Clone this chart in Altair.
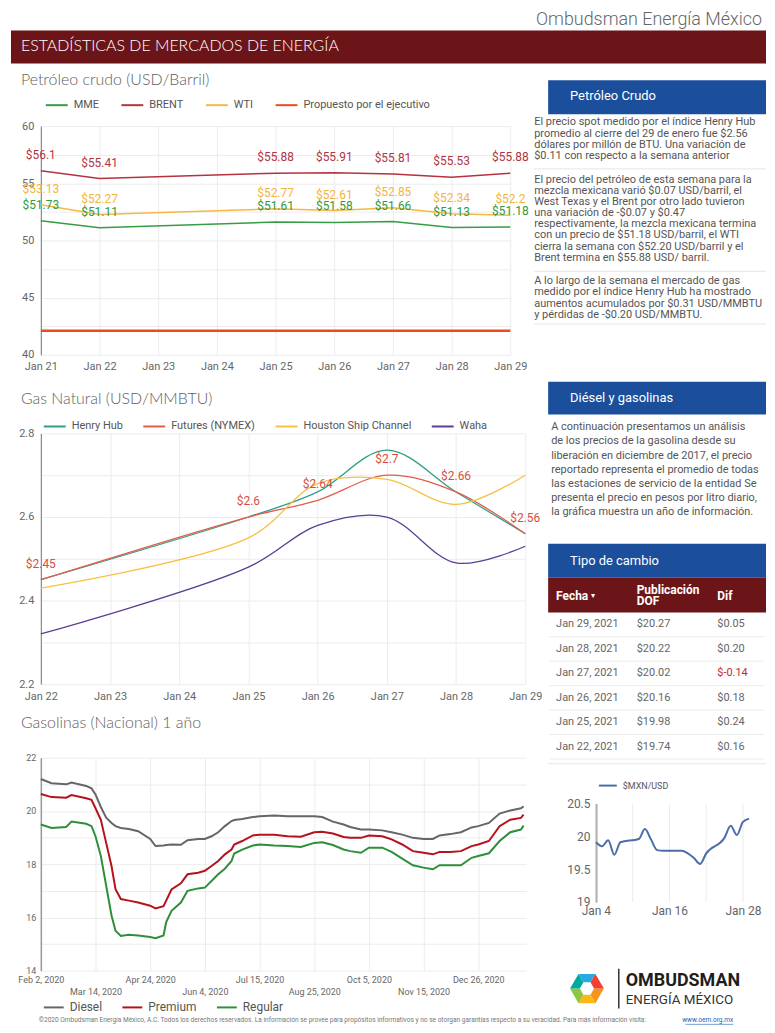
import math
import altair as alt
import pandas as pd

OFF_X, OFF_Y = 10, 11  # page margin (plus small correction)

# ---------------- Petróleo crudo (USD/Barril) ----------------
pet_fechas = ["2021-01-21", "2021-01-22", "2021-01-25", "2021-01-26", "2021-01-27", "2021-01-28", "2021-01-29"]
pet_mme = [51.73, 51.11, 51.61, 51.58, 51.66, 51.13, 51.18]
pet_brent = [56.10, 55.41, 55.88, 55.91, 55.81, 55.53, 55.88]
pet_wti = [53.13, 52.27, 52.77, 52.61, 52.85, 52.34, 52.20]
pet_propuesto = [42.1, 42.1, 42.1, 42.1, 42.1, 42.1, 42.1]
pet_series = ["MME", "BRENT", "WTI", "Propuesto por el ejecutivo"]
pet_colores = ["#369c45", "#b5323f", "#f5b942", "#ee4a1b"]
pet_colores_etiqueta = ["#2f9a3c", "#b23544", "#f1b53e"]
pet_x_ticks = ["2021-01-21", "2021-01-22", "2021-01-23", "2021-01-24", "2021-01-25",
               "2021-01-26", "2021-01-27", "2021-01-28", "2021-01-29"]
pet_y_ticks = [40, 42.5, 45, 47.5, 50, 52.5, 55, 57.5, 60]

# ---------------- Gas Natural (USD/MMBTU) ----------------
gas_fechas = ["2021-01-22", "2021-01-25", "2021-01-26", "2021-01-27", "2021-01-28", "2021-01-29"]
gas_henry = [2.45, 2.60, 2.66, 2.76, 2.66, 2.56]
gas_futures = [2.45, 2.60, 2.64, 2.70, 2.66, 2.56]
gas_houston = [2.43, 2.55, 2.68, 2.69, 2.63, 2.70]
gas_waha = [2.32, 2.48, 2.58, 2.60, 2.49, 2.53]
gas_series = ["Henry Hub", "Futures (NYMEX)", "Houston Ship Channel", "Waha"]
gas_colores = ["#2fa085", "#e25c4c", "#f6c143", "#5b3d94"]
gas_x_ticks = ["2021-01-22", "2021-01-23", "2021-01-24", "2021-01-25",
               "2021-01-26", "2021-01-27", "2021-01-28", "2021-01-29"]
gas_y_ticks = [2.2, 2.3, 2.4, 2.5, 2.6, 2.7, 2.8]

# ---------------- Gasolinas (Nacional) 1 año ----------------
gaso_fechas = ["2020-02-02", "2020-02-10", "2020-02-21", "2020-02-25", "2020-03-07", "2020-03-11",
               "2020-03-14", "2020-03-18", "2020-03-22", "2020-03-26", "2020-03-29", "2020-04-02",
               "2020-04-08", "2020-04-15", "2020-04-24", "2020-04-28", "2020-05-04", "2020-05-06",
               "2020-05-10", "2020-05-17", "2020-05-22", "2020-05-30", "2020-06-04", "2020-06-09",
               "2020-06-14", "2020-06-19", "2020-06-24", "2020-06-26", "2020-07-02", "2020-07-10",
               "2020-07-15", "2020-07-26", "2020-08-05", "2020-08-15", "2020-08-25", "2020-08-31",
               "2020-09-08", "2020-09-16", "2020-09-21", "2020-09-29", "2020-10-05", "2020-10-15",
               "2020-10-22", "2020-10-30", "2020-11-07", "2020-11-15", "2020-11-22", "2020-11-27",
               "2020-12-05", "2020-12-13", "2020-12-21", "2020-12-26", "2021-01-03", "2021-01-11",
               "2021-01-19", "2021-01-27", "2021-01-29"]
gaso_diesel = [21.20, 21.04, 21.00, 21.07, 20.94, 20.85, 20.62, 20.15, 19.75, 19.55, 19.43, 19.36,
               19.32, 19.24, 18.95, 18.68, 18.70, 18.72, 18.74, 18.73, 18.90, 18.95, 18.95, 19.05,
               19.20, 19.43, 19.62, 19.66, 19.70, 19.77, 19.80, 19.83, 19.80, 19.80, 19.80, 19.77,
               19.60, 19.49, 19.40, 19.30, 19.30, 19.27, 19.20, 19.11, 18.99, 18.95, 18.95, 19.08,
               19.13, 19.20, 19.38, 19.43, 19.55, 19.90, 20.02, 20.10, 20.17]
gaso_premium = [20.64, 20.52, 20.50, 20.60, 20.48, 20.42, 20.10, 19.67, 18.80, 17.93, 17.06, 16.69,
                16.63, 16.56, 16.44, 16.34, 16.42, 16.63, 17.05, 17.28, 17.62, 17.68, 17.75, 17.93,
                18.12, 18.37, 18.55, 18.74, 18.87, 19.08, 19.11, 19.11, 19.05, 19.03, 19.20, 19.22,
                19.15, 19.02, 18.99, 18.99, 19.08, 19.05, 18.93, 18.74, 18.49, 18.43, 18.37, 18.46,
                18.46, 18.49, 18.68, 18.74, 18.87, 19.43, 19.67, 19.74, 19.86]
gaso_regular = [19.49, 19.36, 19.40, 19.60, 19.52, 19.43, 19.05, 18.31, 17.19, 16.07, 15.50, 15.30,
                15.35, 15.32, 15.26, 15.22, 15.32, 15.82, 16.25, 16.56, 17.00, 17.09, 17.12, 17.37,
                17.62, 17.83, 18.12, 18.40, 18.55, 18.70, 18.74, 18.70, 18.68, 18.65, 18.80, 18.82,
                18.72, 18.55, 18.49, 18.43, 18.62, 18.62, 18.46, 18.21, 17.96, 17.87, 17.81, 17.96,
                17.96, 17.96, 18.24, 18.31, 18.41, 18.87, 19.20, 19.30, 19.45]
gaso_series = ["Diesel", "Premium", "Regular"]
gaso_colores = ["#666666", "#b5121b", "#2e8f3a"]
gaso_x_ticks = ["2020-02-02", "2020-03-14", "2020-04-24", "2020-06-04", "2020-07-15",
                "2020-08-25", "2020-10-05", "2020-11-15", "2020-12-26"]
gaso_x_dominio = ["2020-02-02", "2021-01-31"]
gaso_y_ticks = [14, 15, 16, 17, 18, 19, 20, 21, 22]

# ---------------- Tipo de cambio ----------------
tabla_fecha = ["Jan 29, 2021", "Jan 28, 2021", "Jan 27, 2021", "Jan 26, 2021", "Jan 25, 2021", "Jan 22, 2021"]
tabla_dof = [20.27, 20.22, 20.02, 20.16, 19.98, 19.74]
tabla_dif = [0.05, 0.20, -0.14, 0.18, 0.24, 0.16]

fx_fechas = ["2021-01-04", "2021-01-05", "2021-01-06", "2021-01-07", "2021-01-08", "2021-01-11",
             "2021-01-12", "2021-01-13", "2021-01-14", "2021-01-15", "2021-01-18", "2021-01-19",
             "2021-01-20", "2021-01-21", "2021-01-22", "2021-01-25", "2021-01-26", "2021-01-27",
             "2021-01-28", "2021-01-29"]
fx_valores = [19.91, 19.85, 19.94, 19.72, 19.91, 19.96, 20.11, 19.95, 19.79, 19.78, 19.78, 19.74,
              19.67, 19.58, 19.74, 19.98, 20.16, 20.02, 20.22, 20.27]
fx_serie = "$MXN/USD"
fx_x_ticks = ["2021-01-04", "2021-01-10", "2021-01-16", "2021-01-22", "2021-01-28"]
fx_x_dominio = ["2021-01-04", "2021-01-29"]
fx_y_ticks = [19, 19.25, 19.5, 19.75, 20, 20.25, 20.5]

# ---------------- textos ----------------
p_henry = ["El precio spot medido por el índice Henry Hub",
           "promedio al cierre del 29 de enero fue $2.56",
           "dólares por millón de BTU. Una variación de",
           "$0.11 con respecto a la semana anterior"]
p_petroleo = ["El precio del petróleo de esta semana para la",
              "mezcla mexicana varió $0.07 USD/barril, el",
              "West Texas y el Brent por otro lado tuvieron",
              "una variación de -$0.07 y $0.47",
              "respectivamente, la mezcla mexicana termina",
              "con un precio de $51.18 USD/barril, el WTI",
              "cierra la semana con $52.20 USD/barril y el",
              "Brent termina en $55.88 USD/ barril."]
p_gas = ["A lo largo de la semana el mercado de gas",
         "medido por el índice Henry Hub ha mostrado",
         "aumentos acumulados por $0.31 USD/MMBTU",
         "y pérdidas de -$0.20 USD/MMBTU."]
p_diesel = ["A continuación presentamos un análisis",
            "de los precios de la gasolina desde su",
            "liberación en diciembre de 2017, el precio",
            "reportado representa el promedio de todas",
            "las estaciones de servicio de la entidad Se",
            "presenta el precio en pesos por litro diario,",
            "la gráfica muestra un año de información."]
footer = ("©2020 Ombudsman Energía México, A.C. Todos los derechos reservados. La información se provee "
          "para propósitos informativos y no se otorgan garantías respecto a su veracidad. Para más información visita:")


# ---------------- helpers ----------------
def D(s):
    y, m, d = (int(p) for p in s.split("-"))
    return alt.DateTime(year=y, month=m, date=d)


def local(dates):
    return [d + "T00:00:00" for d in dates]


one = pd.DataFrame({"k": [0]})


def txt(x, y, text, size=11, color="#555555", font="Roboto", weight="normal",
        align="left", baseline="middle", lh=None):
    props = dict(fontSize=size, color=color, font=font, fontWeight=weight, align=align, baseline=baseline)
    if lh is not None:
        props["lineHeight"] = lh
    return alt.Chart(one).mark_text(**props).encode(
        x=alt.value(x - OFF_X), y=alt.value(y - OFF_Y), text=alt.value(text))


def rect(x, y, x2, y2, color):
    return alt.Chart(one).mark_rect(color=color).encode(
        x=alt.value(x - OFF_X), x2=alt.value(x2 - OFF_X), y=alt.value(y - OFF_Y), y2=alt.value(y2 - OFF_Y))


def hrule(x, x2, y, color="#e6e6e6", w=1.0):
    return alt.Chart(one).mark_rule(color=color, strokeWidth=w).encode(
        x=alt.value(x - OFF_X), x2=alt.value(x2 - OFF_X), y=alt.value(y - OFF_Y))


def vrule(x, y, y2, color="#333333", w=1.0):
    return alt.Chart(one).mark_rule(color=color, strokeWidth=w).encode(
        x=alt.value(x - OFF_X), y=alt.value(y - OFF_Y), y2=alt.value(y2 - OFF_Y))


def spacer(w, h):
    return alt.Chart(one).mark_point(opacity=0).encode(
        x=alt.value(0), y=alt.value(0)).properties(width=w, height=h)


def hex_seg(i, inner=0.42):
    a0, a1 = math.radians(60 * i), math.radians(60 * (i + 1))
    pts = [(math.cos(a0), math.sin(a0)), (math.cos(a1), math.sin(a1)),
           (inner * math.cos(a1), inner * math.sin(a1)), (inner * math.cos(a0), inner * math.sin(a0))]
    return "M" + "L".join(f"{px:.3f},{py:.3f}" for px, py in pts) + "Z"


AX = dict(labelFont="Roboto", labelColor="#666666", ticks=False, title=None,
          gridColor="#ececec", labelOverlap=False, labelBound=False)


def legend(x, y, size=11, sym=22, pad=16):
    return alt.Legend(orient="none", legendX=x, legendY=y, direction="horizontal", title=None,
                      symbolType="stroke", symbolSize=sym * sym, symbolStrokeWidth=2,
                      labelFont="Roboto", labelFontSize=size, labelColor="#555555",
                      labelOffset=5, columnPadding=pad, padding=0)


# ---------------- Petróleo chart ----------------
pet_df = pd.DataFrame({
    "fecha": local(pet_fechas) * 4,
    "serie_pet": [s for s in pet_series for _ in pet_fechas],
    "valor": pet_mme + pet_brent + pet_wti + pet_propuesto,
})
pet_x = alt.X("fecha:T", scale=alt.Scale(domain=[D(pet_x_ticks[0]), D(pet_x_ticks[-1])]),
              axis=alt.Axis(values=[D(t) for t in pet_x_ticks], format="%b %d", labelFlush=False,
                            domain=False, labelFontSize=11, labelPadding=6, **AX))
pet_y = alt.Y("valor:Q", scale=alt.Scale(domain=[40, 60], nice=False, zero=False),
              axis=alt.Axis(values=pet_y_ticks, format="d",
                            labelExpr="datum.value % 5 === 0 ? datum.label : ''",
                            domain=True, domainColor="#777777", labelFontSize=11, labelPadding=7, **AX))
pet_color = alt.Color("serie_pet:N", scale=alt.Scale(domain=pet_series, range=pet_colores),
                      legend=legend(4, -33, pad=18))
pet_base = alt.Chart(pet_df).encode(x=pet_x, y=pet_y)
pet_layers = [
    pet_base.mark_line(strokeWidth=1.5).encode(color=pet_color).transform_filter(alt.datum.serie_pet != pet_series[3]),
    pet_base.mark_line(strokeWidth=2.5).encode(color=pet_color).transform_filter(alt.datum.serie_pet == pet_series[3]),
]
for s, c in zip(pet_series[:3], pet_colores_etiqueta):
    pet_layers.append(
        pet_base.mark_text(dy=-16, fontSize=12, font="Roboto", color=c)
        .encode(text=alt.Text("valor:Q", format="$.2~f"))
        .transform_filter(alt.datum.serie_pet == s))
pet_chart = alt.layer(*pet_layers).properties(width=472, height=230)

# ---------------- Gas chart ----------------
gas_df = pd.DataFrame({
    "fecha": local(gas_fechas) * 4,
    "serie_gas": [s for s in gas_series for _ in gas_fechas],
    "valor": gas_henry + gas_futures + gas_houston + gas_waha,
})
gas_x = alt.X("fecha:T", scale=alt.Scale(domain=[D(gas_x_ticks[0]), D(gas_x_ticks[-1])]),
              axis=alt.Axis(values=[D(t) for t in gas_x_ticks], format="%b %d", labelFlush=False,
                            domain=False, labelFontSize=11, labelPadding=6, **AX))
gas_y = alt.Y("valor:Q", scale=alt.Scale(domain=[2.2, 2.8], nice=False, zero=False),
              axis=alt.Axis(values=gas_y_ticks, format=".1f",
                            labelExpr="round(datum.value * 10) % 2 === 0 ? datum.label : ''",
                            domain=True, domainColor="#777777", labelFontSize=11, labelPadding=7, **AX))
gas_color = alt.Color("serie_gas:N", scale=alt.Scale(domain=gas_series, range=gas_colores),
                      legend=legend(2, -19, pad=16))
gas_base = alt.Chart(gas_df).encode(x=gas_x, y=gas_y)
gas_chart = alt.layer(
    gas_base.mark_line(strokeWidth=1.3, interpolate="catmull-rom").encode(color=gas_color),
    gas_base.mark_text(dy=-16, fontSize=12, font="Roboto", color="#d64f40")
    .encode(text=alt.Text("valor:Q", format="$.2~f"))
    .transform_filter(alt.datum.serie_gas == gas_series[1]),
).properties(width=487, height=252)

# ---------------- Gasolinas chart ----------------
gaso_df = pd.DataFrame({
    "fecha": local(gaso_fechas) * 3,
    "serie_gaso": [s for s in gaso_series for _ in gaso_fechas],
    "valor": gaso_diesel + gaso_premium + gaso_regular,
})
gaso_x = alt.X("fecha:T", scale=alt.Scale(domain=[D(gaso_x_dominio[0]), D(gaso_x_dominio[1])]),
               axis=alt.Axis(values=[D(t) for t in gaso_x_ticks], format="%b %-d, %Y", labelFlush=False,
                             labelExpr="round((datum.value - datetime(2020, 1, 2)) / 864e5 / 41) % 2 === 1 ? ['', datum.label] : datum.label",
                             labelLineHeight=12, domain=False, labelFontSize=9, labelPadding=5, **AX))
gaso_y = alt.Y("valor:Q", scale=alt.Scale(domain=[14, 22], nice=False, zero=False),
               axis=alt.Axis(values=gaso_y_ticks, format="d",
                             labelExpr="datum.value % 2 === 0 ? datum.label : ''",
                             domain=True, domainColor="#999999", domainWidth=1.5,
                             labelFontSize=9, labelPadding=5, **AX))
gaso_chart = alt.Chart(gaso_df).mark_line(strokeWidth=2).encode(
    x=gaso_x, y=gaso_y,
    color=alt.Color("serie_gaso:N", scale=alt.Scale(domain=gaso_series, range=gaso_colores),
                    legend=legend(2, 240, size=12, sym=20, pad=16)),
).properties(width=488, height=214)

# ---------------- Tabla tipo de cambio (cell row starts at page y 432) ----------------
tab_df = pd.DataFrame({"fecha_tab": tabla_fecha, "dof": tabla_dof, "dif": tabla_dif})
TAB_W, TAB_FIRST, TAB_LAST = 216, 624 - 432, 747 - 432
TAB_STEP = (TAB_LAST - TAB_FIRST) / (len(tabla_fecha) - 1)
tab_y = alt.Y("fecha_tab:N", sort=tabla_fecha, axis=None,
              scale=alt.Scale(type="point", padding=0, range=[TAB_FIRST, TAB_LAST]))
tb = alt.Chart(tab_df).encode(y=tab_y)
tab_font = dict(fontSize=11, font="Roboto", align="left", baseline="middle")
tabla = alt.layer(
    tb.mark_rule(color="#ebebeb", yOffset=TAB_STEP / 2).encode(
        x=alt.value(0), x2=alt.value(TAB_W)),
    tb.mark_text(color="#666666", **tab_font).encode(x=alt.value(7), text="fecha_tab:N"),
    tb.transform_calculate(t="'$' + format(datum.dof, '.2f')")
    .mark_text(color="#666666", **tab_font).encode(x=alt.value(88), text="t:N"),
    tb.transform_calculate(t="'$' + (datum.dif < 0 ? '-' : '') + format(abs(datum.dif), '.2f')")
    .mark_text(**tab_font).encode(
        x=alt.value(169), text="t:N",
        color=alt.condition("datum.dif < 0", alt.value("#c62828"), alt.value("#666666"))),
).properties(width=47, height=1)

# ---------------- $MXN/USD chart (cell row starts at page y 758) ----------------
FX_TOP, FX_BOT = 804 - 758, 903 - 758
fx_df = pd.DataFrame({"fecha": local(fx_fechas), "valor": fx_valores,
                      "serie_fx": [fx_serie for _ in fx_fechas]})
fx_grid_df = pd.DataFrame({"fecha": local(fx_x_ticks)})
fx_xscale = alt.Scale(domain=[D(fx_x_dominio[0]), D(fx_x_dominio[1])])
fx_yscale = alt.Scale(domain=[19, 20.5], nice=False, zero=False, range=[FX_BOT, FX_TOP])
fx_line = alt.Chart(fx_df).mark_line(strokeWidth=2, interpolate="monotone").encode(
    x=alt.X("fecha:T", scale=fx_xscale,
            axis=alt.Axis(values=[D(t) for t in fx_x_ticks], format="%b %-d", labelFlush=False, grid=False,
                          labelExpr="round((datum.value - datetime(2021, 0, 4)) / 864e5 / 6) % 2 === 1 ? ['', datum.label] : datum.label",
                          labelLineHeight=14, domain=False, labelFontSize=12, labelPadding=4, **AX)),
    y=alt.Y("valor:Q", scale=fx_yscale,
            axis=alt.Axis(values=fx_y_ticks, format="~g",
                          labelExpr="(datum.value * 2) % 1 === 0 ? datum.label : ''",
                          domain=True, domainColor="#8a8a8a", domainWidth=2,
                          labelFontSize=12, labelPadding=6, **AX)),
    color=alt.Color("serie_fx:N", scale=alt.Scale(domain=[fx_serie], range=["#4a6ea8"]),
                    legend=legend(2, 18, size=9, sym=18)),
)
fx_grid = alt.Chart(fx_grid_df).mark_rule(color="#ececec").encode(
    x=alt.X("fecha:T", scale=fx_xscale), y=alt.datum(19, scale=fx_yscale), y2=alt.datum(20.5))
fx_chart = alt.layer(fx_grid, fx_line).properties(width=154, height=FX_BOT)

# ---------------- decoraciones (encabezados, textos, logo) ----------------
BLUE = "#1b4f9c"
MAROON = "#6c1519"
R = 769  # right edge of drawable page
PFONT = 11
deco = [
    txt(765, 16, "Ombudsman Energía México", size=18, color="#666666", weight=300, align="right"),
    rect(10, 27, R, 60, MAROON),
    txt(20, 43, "ESTADÍSTICAS DE MERCADOS DE ENERGÍA", size=16, color="#ffffff", font="Lato", weight=300),
    txt(20, 77, "Petróleo crudo (USD/Barril)", size=16, color="#5e5e5e", font="Lato", weight=300),
    txt(20, 397, "Gas Natural  (USD/MMBTU)", size=16, color="#5e5e5e", font="Lato", weight=300),
    txt(20, 723, "Gasolinas (Nacional) 1 año", size=16, color="#5e5e5e", font="Lato", weight=300),
    rect(550, 77, R, 111, BLUE),
    txt(572, 93, "Petróleo Crudo", size=13, color="#ffffff"),
    txt(536, 113, p_henry, size=PFONT, color="#555555", baseline="top", lh=11.5),
    hrule(536, R, 166),
    txt(536, 171, p_petroleo, size=PFONT, color="#555555", baseline="top", lh=11.2),
    hrule(536, R, 269),
    txt(536, 273, p_gas, size=PFONT, color="#555555", baseline="top", lh=11.2),
    hrule(536, R, 322),
    rect(550, 380, R, 413, BLUE),
    txt(572, 396, "Diésel y gasolinas", size=13, color="#ffffff"),
    txt(553, 420, p_diesel, size=PFONT, color="#555555", baseline="top", lh=14.1),
    rect(550, 543, R, 577, BLUE),
    txt(572, 560, "Tipo de cambio", size=13, color="#ffffff"),
    rect(550, 577, R, 612, MAROON),
    txt(558, 595, "Fecha", size=12, color="#ffffff", weight="bold"),
    txt(593, 595, "▾", size=8, color="#ffffff"),
    txt(639, 589, "Publicación", size=12, color="#ffffff", weight="bold"),
    txt(639, 600, "DOF", size=12, color="#ffffff", weight="bold"),
    txt(720, 595, "Dif", size=12, color="#ffffff", weight="bold"),
    hrule(550, R, 764, color="#e6e6e6"),
    txt(628, 982, "OMBUDSMAN", size=18, color="#1e1e1e", weight="bold"),
    txt(628, 1002, "ENERGÍA MÉXICO", size=13.5, color="#333333"),
    vrule(621, 970, 1010, color="#333333", w=1.5),
    txt(38, 1022, footer, size=6.6, color="#777777"),
    txt(736, 1022, "www.oem.org.mx", size=6.6, color="#1a5fb4", align="right"),
    hrule(688, 736, 1026, color="#1a5fb4", w=0.6),
]
hex_colores = ["#f7941d", "#fdb913", "#8dc63f", "#00a99d", "#27aae1", "#ef4136"]
for i, c in enumerate(hex_colores):
    deco.append(alt.Chart(one).mark_point(shape=hex_seg(i), size=34 * 34, filled=True, fill=c,
                                          opacity=1, strokeWidth=0)
                .encode(x=alt.value(589 - OFF_X), y=alt.value(990 - OFF_Y)))
deco_chart = alt.layer(*deco).properties(width=30, height=112)

# ---------------- layout: aligned 5x6 grid ----------------
# column widths: 30 | 488 | 23 | 47 | 154 ; row heights: 112 | 230 | 79 | 252 | 74 | 214
cells = [
    deco_chart, spacer(1, 1), spacer(23, 1), spacer(47, 1), spacer(1, 1),
    spacer(30, 1), pet_chart, spacer(1, 1), spacer(1, 1), spacer(1, 1),
    spacer(1, 79), spacer(1, 1), spacer(1, 1), spacer(1, 1), spacer(1, 1),
    spacer(1, 1), gas_chart, spacer(1, 1), tabla, spacer(1, 1),
    spacer(1, 74), spacer(1, 1), spacer(1, 1), spacer(1, 1), spacer(1, 1),
    spacer(1, 1), gaso_chart, spacer(1, 1), spacer(1, 1), fx_chart,
]

chart = alt.concat(*cells, columns=5).properties(
    align="each", bounds="flush", spacing=0,
    padding={"left": 0, "top": 0, "right": 0, "bottom": 0},
).resolve_scale(color="independent").resolve_legend(color="independent").configure(
    font="Roboto", background="#ffffff"
).configure_view(stroke="transparent", strokeWidth=0)

chart.save("out.html", embed_options={"renderer": "svg", "actions": False})
